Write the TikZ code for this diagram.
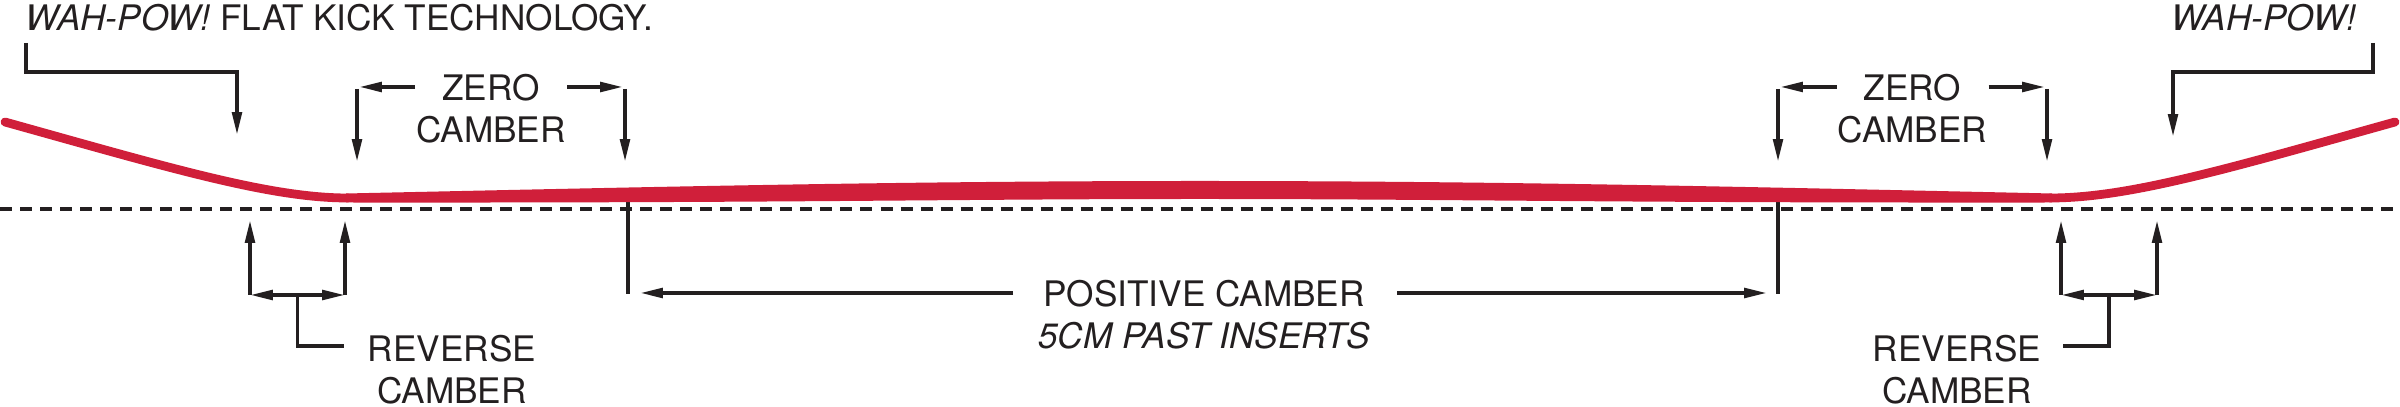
\documentclass[tikz,border=0pt]{standalone}
\usepackage{fontspec}
\setmainfont{TeX Gyre Heros}
\usetikzlibrary{arrows.meta,calc}
\definecolor{ink}{RGB}{35,31,32}
\definecolor{boardred}{RGB}{208,31,58}
\tikzstyle{guide}=[draw=ink,line width=1.05pt]
\tikzstyle{pointer}=[guide,-{Triangle[length=6.5pt,width=2.7pt]}]
\tikzstyle{twoway}=[guide,{Triangle[length=6.5pt,width=2.7pt]}-{Triangle[length=6.5pt,width=2.7pt]}]
\tikzstyle{note}=[text=ink,inner sep=0pt,align=center,font=\fontsize{10}{11.8}\selectfont]
\tikzstyle{groundline}=[draw=ink,line width=1.2pt,dash pattern=on 0.12cm off 0.08cm]
\tikzstyle{board}=[boardred,line width=2.5pt,line cap=round]
\newcommand{\zerocamber}[3]{% #1 name, #2 and #3 the two ends
\pgfmathsetmacro{\midx}{(#2+#3)/2}
\node[note,anchor=north] (#1) at (\midx,74) {ZERO\\CAMBER};
\coordinate (#1-la) at (\midx-76,87);
\coordinate (#1-lb) at (#2+2,87);
\coordinate (#1-ra) at (\midx+76,87);
\coordinate (#1-rb) at (#3-2,87);
\coordinate (#1-l1) at (#2,89);
\coordinate (#1-l2) at (#2,162);
\coordinate (#1-r1) at (#3,89);
\coordinate (#1-r2) at (#3,162);
\draw[pointer] (#1-la) -- (#1-lb);
\draw[pointer] (#1-ra) -- (#1-rb);
\draw[pointer] (#1-l1) -- (#1-l2);
\draw[pointer] (#1-r1) -- (#1-r2);
}
\newcommand{\reversecamber}[4]{% #1 name, #2 and #3 the two ends, #4 text centre
\pgfmathsetmacro{\stemx}{(#2+#3)/2}
\pgfmathsetmacro{\tipx}{\stemx+46*sign(#4-\stemx)}
\node[note,anchor=north] (#1) at (#4,335) {REVERSE\\CAMBER};
\coordinate (#1-l1) at (#2,295);
\coordinate (#1-l2) at (#2,220);
\coordinate (#1-r1) at (#3,295);
\coordinate (#1-r2) at (#3,220);
\coordinate (#1-s1) at (\stemx,295);
\coordinate (#1-s2) at (\stemx,346);
\coordinate (#1-s3) at (\tipx,346);
\draw[pointer] (#1-l1) -- (#1-l2);
\draw[pointer] (#1-r1) -- (#1-r2);
\draw[twoway] (#1-l1) -- (#1-r1);
\draw[guide] (#1-s1) -- (#1-s2) -- (#1-s3);
}

\begin{document}
\begin{tikzpicture}[x=0.01cm,y=-0.01cm]
\useasboundingbox (0,0) rectangle (2400,407);

% titles
\node[note,anchor=base west] (titleL) at (25,31) {\textit{WAH-POW!} FLAT KICK TECHNOLOGY.};
\node[note,anchor=base east] (titleR) at (2357,31) {\textit{WAH-POW!}};

% kick pointers
\coordinate (kickL0) at (26,43);
\coordinate (kickL1) at (26,72);
\coordinate (kickL2) at (237,72);
\coordinate (kickL3) at (237,135);
\draw[pointer] (kickL0) -- (kickL1) -- (kickL2) -- (kickL3);
\coordinate (kickR0) at (2373,43);
\coordinate (kickR1) at (2373,72);
\coordinate (kickR2) at (2173,72);
\coordinate (kickR3) at (2173,137);
\draw[pointer] (kickR0) -- (kickR1) -- (kickR2) -- (kickR3);

% ground
\coordinate (groundL) at (0,209);
\coordinate (groundR) at (2400,209);
\draw[groundline] (groundL) -- (groundR);

% positive camber
\coordinate (posL1) at (628,200);
\coordinate (posL2) at (628,294);
\coordinate (posR1) at (1778,200);
\coordinate (posR2) at (1778,294);
\draw[guide] (posL1) -- (posL2);
\draw[guide] (posR1) -- (posR2);
\node[note,anchor=north] (pos) at (1204,280) {POSITIVE CAMBER\\\textit{5CM PAST INSERTS}};
\coordinate (posLa) at (1013,293);
\coordinate (posLb) at (640,293);
\coordinate (posRa) at (1397,293);
\coordinate (posRb) at (1767,293);
\draw[pointer] (posLa) -- (posLb);
\draw[pointer] (posRa) -- (posRb);

% the board
\draw[board] (5,122) .. controls (170,168) and (270,198) .. (348,198);
\draw[board] (2395,122) .. controls (2230,168) and (2130,198) .. (2050,198);
\fill[boardred] (346,193.5) .. controls (650,187) and (900,181) .. (1200,181)
  .. controls (1500,181) and (1750,187) .. (2052,193.5) -- (2052,202.5)
  .. controls (1600,203) and (1450,199) .. (1200,199)
  .. controls (950,199) and (800,203) .. (346,202.5) -- cycle;

\zerocamber{zeroL}{357}{625}
\zerocamber{zeroR}{1778}{2047}
\reversecamber{revL}{250}{345}{452}
\reversecamber{revR}{2061}{2157}{1957}
\end{tikzpicture}
\end{document}
